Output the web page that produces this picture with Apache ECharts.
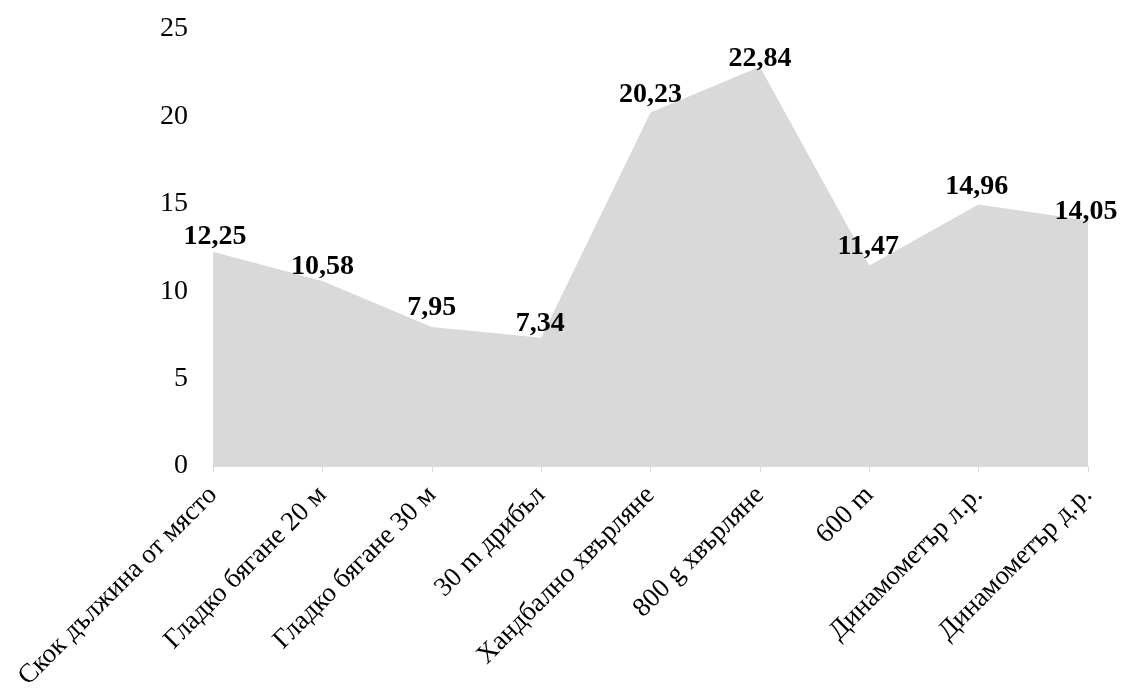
<!DOCTYPE html>
<html>
<head>
<meta charset="utf-8">
<script src="https://cdn.jsdelivr.net/npm/echarts@6/dist/echarts.min.js"></script>
<style>html,body{margin:0;padding:0;background:#fff}#c{width:1123px;height:695px}</style>
</head>
<body>
<div id="c"></div>
<script>
const categories = ['Скок дължина от място','Гладко бягане 20 м','Гладко бягане 30 м','30 m дрибъл','Хандбално хвърляне','800 g хвърляне','600 m','Динамометър л.р.','Динамометър д.р.'];
const values = [12.25, 10.58, 7.95, 7.34, 20.23, 22.84, 11.47, 14.96, 14.05];
const yTicks = [0, 5, 10, 15, 20, 25];
// label offsets (style only)
const labelOffsets = [[2,4],[0,5],[0,0],[-1,6],[0,2],[0,12],[-1,1],[-2,2],[-2,11]];

const font = '"Liberation Serif", "Times New Roman", serif';
const chart = echarts.init(document.getElementById('c'));
chart.setOption({
  animation: false,
  grid: {left: 213, right: 35, top: 29, bottom: 229, containLabel: false, outerBoundsMode: 'none'},
  xAxis: {
    type: 'category', data: categories, boundaryGap: false,
    axisLine: {lineStyle: {color: '#d9d9d9', width: 1}},
    axisTick: {length: 6, lineStyle: {color: '#d9d9d9'}},
    axisLabel: {rotate: 45, color: '#000', fontFamily: font, fontSize: 27, margin: 25, interval: 0}
  },
  yAxis: {
    type: 'value', min: yTicks[0], max: yTicks[yTicks.length-1], interval: 5,
    axisLine: {show: false}, axisTick: {show: false}, splitLine: {show: false},
    axisLabel: {color: '#000', fontFamily: font, fontSize: 28, margin: 25}
  },
  series: [{
    type: 'line',
    data: values.map((v, i) => ({value: v, label: {offset: labelOffsets[i]}})),
    showSymbol: true, symbol: 'circle', symbolSize: 1,
    itemStyle: {color: 'rgba(217,217,217,0)', borderWidth: 0},
    lineStyle: {width: 0},
    areaStyle: {color: '#d9d9d9', opacity: 1},
    label: {
      show: true, position: 'top', distance: 5,
      fontFamily: font, fontSize: 28, fontWeight: 'bold', color: '#000',
      formatter: p => p.value.toFixed(2).replace('.', ',')
    }
  }]
});
</script>
</body>
</html>
